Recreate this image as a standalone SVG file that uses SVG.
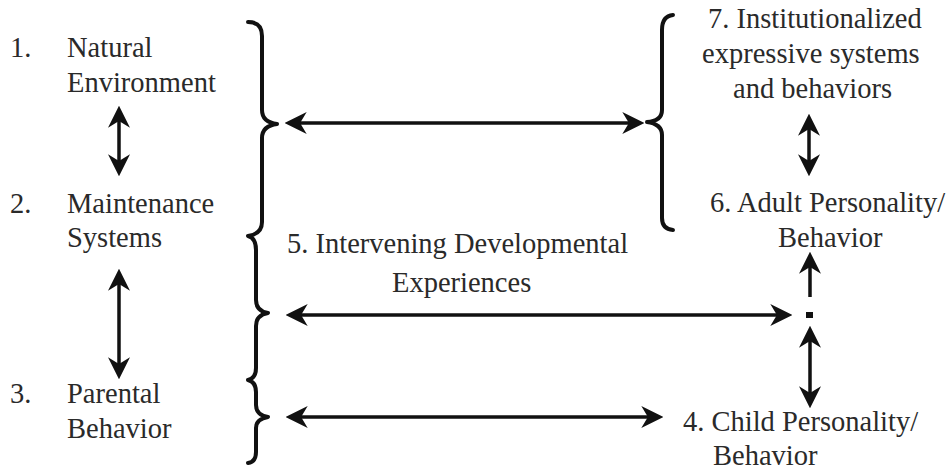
<svg xmlns="http://www.w3.org/2000/svg" width="950" height="472" viewBox="0 0 950 472">
<style>
text{font-family:"Liberation Serif","Times New Roman",serif;font-size:28.5px;fill:#2a2a2a}
.br{fill:none;stroke:#111;stroke-width:4;stroke-linejoin:round;stroke-linecap:round}
.ar{stroke:#111;stroke-width:3.5;fill:none}
</style>
<defs>
<marker id="ah" markerUnits="userSpaceOnUse" markerWidth="22" markerHeight="22" viewBox="0 0 20 20" refX="7" refY="10" orient="auto-start-reverse">
<path d="M20,10 L0,0 L6,10 L0,20 Z" fill="#111"/>
</marker>
</defs>
<g id="connectors">
<path class="br" d="M248,22 Q262,22 262,36 L262,110 Q262,122 277,124 Q262,126 262,138 L262,222 Q262,234 248,236 Q256,238 256,250 L256,300 Q256,311 268,313 Q256,315 256,326 L256,368 Q256,378 248,380 Q256,382 256,392 L256,405 Q256,415 268,417 Q256,419 256,428 L256,452 Q256,462 248,463"/>
<path class="br" d="M673,15 Q662,16 662,30 L662,110 Q662,121 647,122 Q662,124 662,135 L662,218 Q662,229 673,230"/>
<line class="ar" x1="299" y1="123" x2="630" y2="123" marker-start="url(#ah)" marker-end="url(#ah)"/>
<line class="ar" x1="300" y1="315" x2="778" y2="315" marker-start="url(#ah)" marker-end="url(#ah)"/>
<line class="ar" x1="300" y1="417" x2="649" y2="417" marker-start="url(#ah)" marker-end="url(#ah)"/>
<line class="ar" x1="119" y1="120" x2="119" y2="162" marker-start="url(#ah)" marker-end="url(#ah)"/>
<line class="ar" x1="119" y1="283" x2="119" y2="365" marker-start="url(#ah)" marker-end="url(#ah)"/>
<line class="ar" x1="809" y1="128" x2="809" y2="162" marker-start="url(#ah)" marker-end="url(#ah)"/>
<line class="ar" x1="810" y1="297" x2="810" y2="266" marker-end="url(#ah)"/>
<line class="ar" x1="810" y1="340" x2="810" y2="394" marker-start="url(#ah)" marker-end="url(#ah)"/>
<rect x="806" y="312" width="7" height="6" fill="#111"/>
</g>
<g id="n1"><text x="10" y="57">1.</text><text x="67" y="57">Natural</text><text x="67" y="92">Environment</text></g>
<g id="n2"><text x="10" y="213">2.</text><text x="67" y="213">Maintenance</text><text x="67" y="247">Systems</text></g>
<g id="n3"><text x="10" y="403">3.</text><text x="67" y="403">Parental</text><text x="67" y="438">Behavior</text></g>
<g id="n5"><text x="287" y="253">5. Intervening Developmental</text><text x="392" y="292">Experiences</text></g>
<g id="n7"><text x="708" y="28">7. Institutionalized</text><text x="702" y="63">expressive systems</text><text x="733" y="98">and behaviors</text></g>
<g id="n6"><text x="710" y="212">6. Adult Personality/</text><text x="778" y="247">Behavior</text></g>
<g id="n4"><text x="683" y="431">4. Child Personality/</text><text x="713" y="465">Behavior</text></g>
</svg>
